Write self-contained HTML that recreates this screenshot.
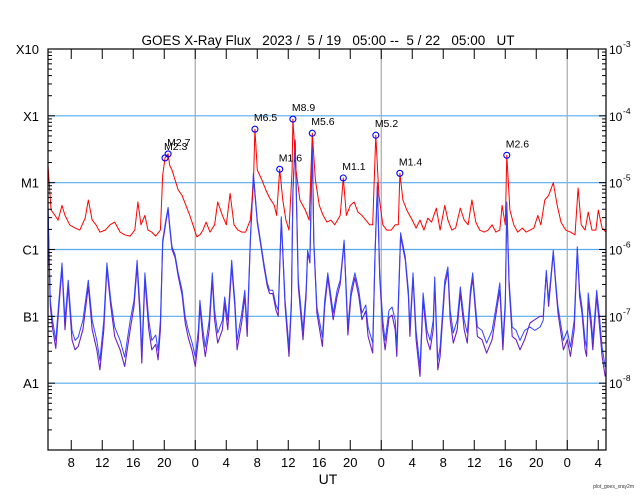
<!DOCTYPE html>
<html><head><meta charset="utf-8"><style>
html,body{margin:0;padding:0;background:#fff;}
svg{display:block;font-family:"Liberation Sans",sans-serif;}
</style></head><body>
<svg id="chart" width="640" height="500" viewBox="0 0 640 500" xmlns="http://www.w3.org/2000/svg">
<rect width="640" height="500" fill="#fff"/>
<text x="328" y="45" font-size="13.5" text-anchor="middle" xml:space="preserve">GOES X-Ray Flux   2023 /  5 / 19   05:00 --  5 / 22   05:00   UT</text>
<g id="grid"></g>
<g id="series"></g>
<g id="axes"></g>
<text x="328" y="484" font-size="14" text-anchor="middle">UT</text>
<text x="634" y="488" font-size="5" text-anchor="end" fill="#333">plot_goes_xray2m</text>
</svg>
<script>
const classLabels = ["X10","X1","M1","C1","B1","A1"];
const classExps = [-3,-4,-5,-6,-7,-8];
const rightExps = [-3,-4,-5,-6,-7,-8];
const hourTicks = [3,7,11,15,19,23,27,31,35,39,43,47,51,55,59,63,67,71];
const hourLabels = ["8","12","16","20","0","4","8","12","16","20","0","4","8","12","16","20","0","4"];
const dayLines = [19,43,67];
const gridExps = [-4,-5,-6,-7,-8];

const longTimes = [0,0.4,0.9,1.3,1.8,2.2,2.8,3.5,4.1,4.8,5.2,5.7,6.2,6.7,7.4,8.0,8.6,9.3,9.9,10.6,11.2,11.6,12.0,12.5,12.9,13.4,13.9,14.5,14.8,15.1,15.5,15.7,16.0,16.4,16.8,17.3,17.8,18.3,18.7,19.2,19.6,20.0,20.4,20.9,21.5,21.9,22.5,23.0,23.5,24.0,24.5,25.0,25.5,26.1,26.5,26.7,27.0,27.6,28.1,28.6,29.2,29.5,29.9,30.3,30.7,31.1,31.5,31.6,32.0,32.5,33.2,33.7,34.1,34.5,35.0,35.5,36.0,36.5,37.0,37.7,38.1,38.5,39.0,39.5,40.0,40.5,41.0,41.5,41.9,42.3,42.7,43.2,43.7,44.3,44.8,45.2,45.4,45.8,46.3,47.0,47.5,48.0,48.5,49.0,49.5,50.1,50.6,51.2,51.6,52.1,52.6,53.2,53.7,54.2,54.7,55.2,55.7,56.3,56.8,57.3,57.8,58.3,58.6,59.0,59.2,59.6,60.1,60.6,61.2,61.7,62.2,62.7,63.2,63.6,64.1,64.6,65.2,65.7,66.2,66.8,67.4,68.0,68.4,68.8,69.3,69.7,70.2,70.7,71.0,71.5,72.0];
const longFlux = [-4.74,-5.41,-5.49,-5.56,-5.34,-5.49,-5.63,-5.68,-5.71,-5.53,-5.26,-5.56,-5.63,-5.74,-5.71,-5.63,-5.59,-5.74,-5.78,-5.80,-5.71,-5.29,-5.63,-5.49,-5.71,-5.74,-5.80,-5.71,-4.89,-4.63,-4.57,-4.74,-4.81,-4.96,-5.11,-5.19,-5.34,-5.49,-5.63,-5.81,-5.78,-5.71,-5.59,-5.74,-5.63,-5.29,-5.49,-5.63,-5.16,-5.63,-5.71,-5.74,-5.74,-5.56,-5.04,-4.20,-4.81,-4.96,-5.11,-5.23,-5.34,-5.49,-4.80,-5.26,-5.56,-5.71,-4.81,-4.05,-4.81,-5.26,-5.41,-5.56,-4.26,-4.96,-5.34,-5.49,-5.59,-5.56,-5.63,-5.49,-4.93,-5.49,-5.34,-5.29,-5.44,-5.49,-5.56,-5.63,-5.63,-4.29,-5.19,-5.63,-5.71,-5.71,-5.63,-5.63,-4.86,-5.26,-5.41,-5.56,-5.68,-5.56,-5.71,-5.53,-5.59,-5.38,-5.71,-5.34,-5.56,-5.71,-5.68,-5.38,-5.56,-5.63,-5.26,-5.59,-5.71,-5.74,-5.71,-5.63,-5.74,-5.71,-5.34,-5.63,-4.59,-5.41,-5.63,-5.74,-5.68,-5.74,-5.71,-5.68,-5.49,-5.63,-5.26,-5.19,-5.00,-5.34,-5.59,-5.71,-5.74,-5.78,-5.08,-5.63,-5.71,-5.44,-5.71,-5.71,-5.41,-5.68,-5.74];

const shortTimes = [0,0.3,0.6,1.0,1.4,1.8,2.2,2.6,3.1,3.5,3.9,4.5,5.2,5.7,6.3,6.7,7.2,7.6,8.1,8.6,9.3,9.9,10.6,11.1,11.5,11.9,12.1,12.5,13.0,13.4,13.9,14.2,14.5,14.8,15.2,15.5,15.7,16.0,16.4,16.8,17.3,17.7,18.1,18.6,19.0,19.4,19.6,20.0,20.3,20.8,21.2,21.5,21.9,22.5,22.8,23.2,23.7,24.1,24.4,25.0,25.4,25.7,26.1,26.5,27.0,27.4,27.9,28.3,28.6,29.0,29.4,29.7,30.1,30.6,31.1,31.4,31.6,31.9,32.3,32.9,33.3,33.5,33.8,34.1,34.3,34.7,35.4,35.7,36.1,36.8,37.3,37.7,38.2,38.7,39.1,39.6,40.1,40.5,41.0,41.3,41.9,42.2,42.5,42.8,43.2,43.5,44.0,44.4,44.8,45.0,45.5,46.1,46.5,46.7,47.1,47.5,48.0,48.4,48.9,49.3,49.7,49.9,50.3,50.6,51.2,51.6,51.9,52.3,52.8,53.2,53.7,54.1,54.5,54.8,55.1,55.4,56.0,56.6,57.3,57.9,58.3,58.7,59.0,59.2,59.5,59.9,60.4,60.9,61.5,62.2,62.8,63.5,63.9,64.3,64.6,65.2,65.5,65.8,66.5,67.0,67.4,67.9,68.3,68.6,68.9,69.3,69.5,69.7,70.1,70.3,70.8,71.2,71.5,71.9];
const shortFlux = [-5.34,-6.76,-7.06,-7.36,-6.76,-6.20,-7.06,-6.46,-7.21,-7.36,-7.31,-7.06,-6.46,-7.06,-7.36,-7.66,-7.06,-6.20,-6.76,-7.16,-7.36,-7.61,-7.06,-6.76,-6.16,-6.91,-7.55,-6.35,-7.06,-7.36,-7.28,-7.51,-7.06,-5.86,-5.56,-5.37,-5.63,-5.96,-6.08,-6.35,-6.61,-7.01,-7.21,-7.40,-7.61,-7.21,-6.76,-7.21,-7.46,-7.06,-6.35,-6.91,-7.25,-7.06,-6.71,-7.06,-6.16,-6.76,-7.36,-6.95,-6.61,-7.16,-5.86,-4.86,-5.56,-5.86,-6.23,-6.50,-6.61,-6.61,-6.83,-6.91,-5.51,-6.76,-7.46,-6.76,-5.11,-4.36,-6.46,-7.21,-6.61,-6.01,-6.16,-4.36,-5.86,-6.86,-7.31,-6.76,-6.35,-6.95,-6.61,-6.46,-5.86,-7.16,-6.61,-6.35,-6.61,-6.95,-6.83,-7.16,-7.40,-6.01,-5.00,-6.35,-7.06,-7.36,-6.91,-6.86,-7.06,-7.46,-5.75,-6.11,-6.61,-7.16,-6.35,-7.21,-7.76,-6.65,-7.21,-7.36,-7.06,-6.41,-7.66,-7.46,-6.46,-6.26,-6.91,-7.25,-7.06,-6.56,-7.06,-7.25,-6.61,-6.35,-6.76,-7.16,-7.21,-7.40,-7.21,-6.80,-6.50,-7.36,-6.76,-5.29,-6.46,-7.16,-7.21,-7.36,-7.21,-7.16,-7.21,-7.16,-7.06,-6.31,-6.76,-6.01,-6.46,-6.86,-7.36,-7.21,-7.46,-7.06,-5.96,-6.61,-6.86,-7.36,-7.46,-6.65,-7.06,-7.36,-6.61,-7.06,-7.46,-7.76];
const purpleFlux = [-5.40,-6.85,-7.18,-7.48,-6.85,-6.28,-7.2,-6.55,-7.35,-7.5,-7.45,-7.2,-6.55,-7.2,-7.5,-7.8,-7.2,-6.28,-6.85,-7.3,-7.5,-7.75,-7.2,-6.85,-6.25,-7.05,-7.7,-6.45,-7.2,-7.5,-7.42,-7.65,-7.2,-5.9,-5.6,-5.4,-5.68,-6.0,-6.12,-6.4,-6.68,-7.1,-7.32,-7.52,-7.75,-7.35,-6.85,-7.35,-7.6,-7.2,-6.45,-7.05,-7.4,-7.2,-6.8,-7.2,-6.25,-6.85,-7.5,-7.08,-6.7,-7.3,-5.9,-4.9,-5.6,-5.9,-6.28,-6.55,-6.66,-6.66,-6.9,-7.0,-5.55,-6.85,-7.6,-6.85,-5.15,-4.4,-6.55,-7.35,-6.7,-6.05,-6.2,-4.4,-5.9,-6.95,-7.45,-6.85,-6.42,-7.05,-6.7,-6.52,-5.9,-7.28,-6.7,-6.42,-6.7,-7.05,-6.92,-7.3,-7.55,-6.05,-5.05,-6.42,-7.2,-7.5,-7.02,-6.98,-7.2,-7.6,-5.8,-6.16,-6.7,-7.3,-6.42,-7.35,-7.9,-6.75,-7.35,-7.5,-7.2,-6.5,-7.8,-7.6,-6.55,-6.32,-7.05,-7.4,-7.2,-6.65,-7.2,-7.4,-6.7,-6.42,-6.85,-7.3,-7.35,-7.55,-7.35,-6.9,-6.6,-7.5,-6.85,-5.33,-6.55,-7.3,-7.35,-7.5,-7.35,-7.1,-7.05,-7.0,-7.0,-6.35,-6.85,-6.05,-6.52,-6.95,-7.5,-7.35,-7.6,-7.2,-6.0,-6.7,-6.95,-7.5,-7.6,-6.75,-7.2,-7.5,-6.7,-7.2,-7.6,-7.9];

const flareLabels = ["M2.3","M2.7","M6.5","M1.6","M8.9","M5.6","M1.1","M5.2","M1.4","M2.6"];
const flareTimes = [15.1,15.5,26.7,29.9,31.6,34.1,38.1,42.3,45.4,59.2];
const flareFlux = [-4.63,-4.57,-4.20,-4.80,-4.05,-4.26,-4.93,-4.29,-4.86,-4.59];

const NS="http://www.w3.org/2000/svg";
const X0=48, X1=606, Y0=49, Y1=450;
const xScale = h => X0 + (X1-X0)*h/72;
const yScale = v => Y0 + (-3 - v)*(Y1-Y0)/6;
function mk(tag, parent, attrs){const e=document.createElementNS(NS,tag);for(const k in attrs)e.setAttribute(k,attrs[k]);parent.appendChild(e);return e;}
const grid=document.getElementById('grid'), axes=document.getElementById('axes'), series=document.getElementById('series');

gridExps.forEach(v=>{
  const l=mk('line',grid,{x1:X0,x2:X1,y1:yScale(v),y2:yScale(v),stroke:'#55aaee','stroke-width':1.2});
  
  
});
dayLines.forEach(h=>{
  const l=mk('line',grid,{x1:xScale(h),x2:xScale(h),y1:Y0,y2:Y1,stroke:'#aaa','stroke-width':1.2});
  
  
});

function poly(times, vals, color, name, w){
  const n=Math.min(times.length, vals.length);
  const pts=[];
  for(let i=0;i<n;i++) pts.push(xScale(times[i]).toFixed(1)+','+yScale(vals[i]).toFixed(1));
  const p=mk('polyline',series,{points:pts.join(' '),fill:'none',stroke:color,'stroke-width':w,'stroke-linejoin':'round'});
  
  
}
poly(shortTimes,purpleFlux,'#6a1fc4','short-channel-secondary-line',1.1);
poly(shortTimes,shortFlux,'#3344ff','short-channel-line',1);
poly(longTimes,longFlux,'#ff0000','long-channel-line',1);

flareLabels.forEach((lab,i)=>{
  const cx=xScale(flareTimes[i]), cy=yScale(flareFlux[i]);
  const c=mk('circle',series,{cx:cx,cy:cy,r:3,fill:'none',stroke:'#0000ff','stroke-width':1.1});
  
  
  const t=mk('text',series,{x:cx-1,y:cy-8,'font-size':10.5,fill:'#000'});
  t.textContent=lab;
  
  
});

const frame=mk('rect',axes,{x:X0,y:Y0,width:X1-X0,height:Y1-Y0,fill:'none',stroke:'#000','stroke-width':1.2});



for(let d=-9; d<-3; d++){
  for(let m=1;m<10;m++){
    const v=d+Math.log10(m); const y=yScale(v);
    const len = m===1?7:4;
    const a=mk('line',axes,{x1:X0,x2:X0+len,y1:y,y2:y,stroke:'#000','stroke-width':1});
    
    
    const b=mk('line',axes,{x1:X1-len,x2:X1,y1:y,y2:y,stroke:'#000','stroke-width':1});
    
    
  }
}
classLabels.forEach((lab,i)=>{
  const t=mk('text',axes,{x:39,y:yScale(classExps[i])+5,'font-size':13,'text-anchor':'end'});
  t.textContent=lab;
  
  
});
rightExps.forEach(e=>{
  const t=mk('text',axes,{x:609,y:yScale(e)+5,'font-size':12});
  t.textContent='10';
  
  
  const s=mk('text',axes,{x:623,y:yScale(e)-2,'font-size':8.5});
  s.textContent=String(e);
  
  
});
hourTicks.forEach((h,i)=>{
  const x=xScale(h);
  const a=mk('line',axes,{x1:x,x2:x,y1:Y1,y2:Y1-10,stroke:'#000','stroke-width':1});
  
  
  const b=mk('line',axes,{x1:x,x2:x,y1:Y0,y2:Y0+10,stroke:'#000','stroke-width':1});
  
  
  const t=mk('text',axes,{x:x,y:467,'font-size':13,'text-anchor':'middle'});
  t.textContent=hourLabels[i];
  
  
});
</script>
</body></html>
